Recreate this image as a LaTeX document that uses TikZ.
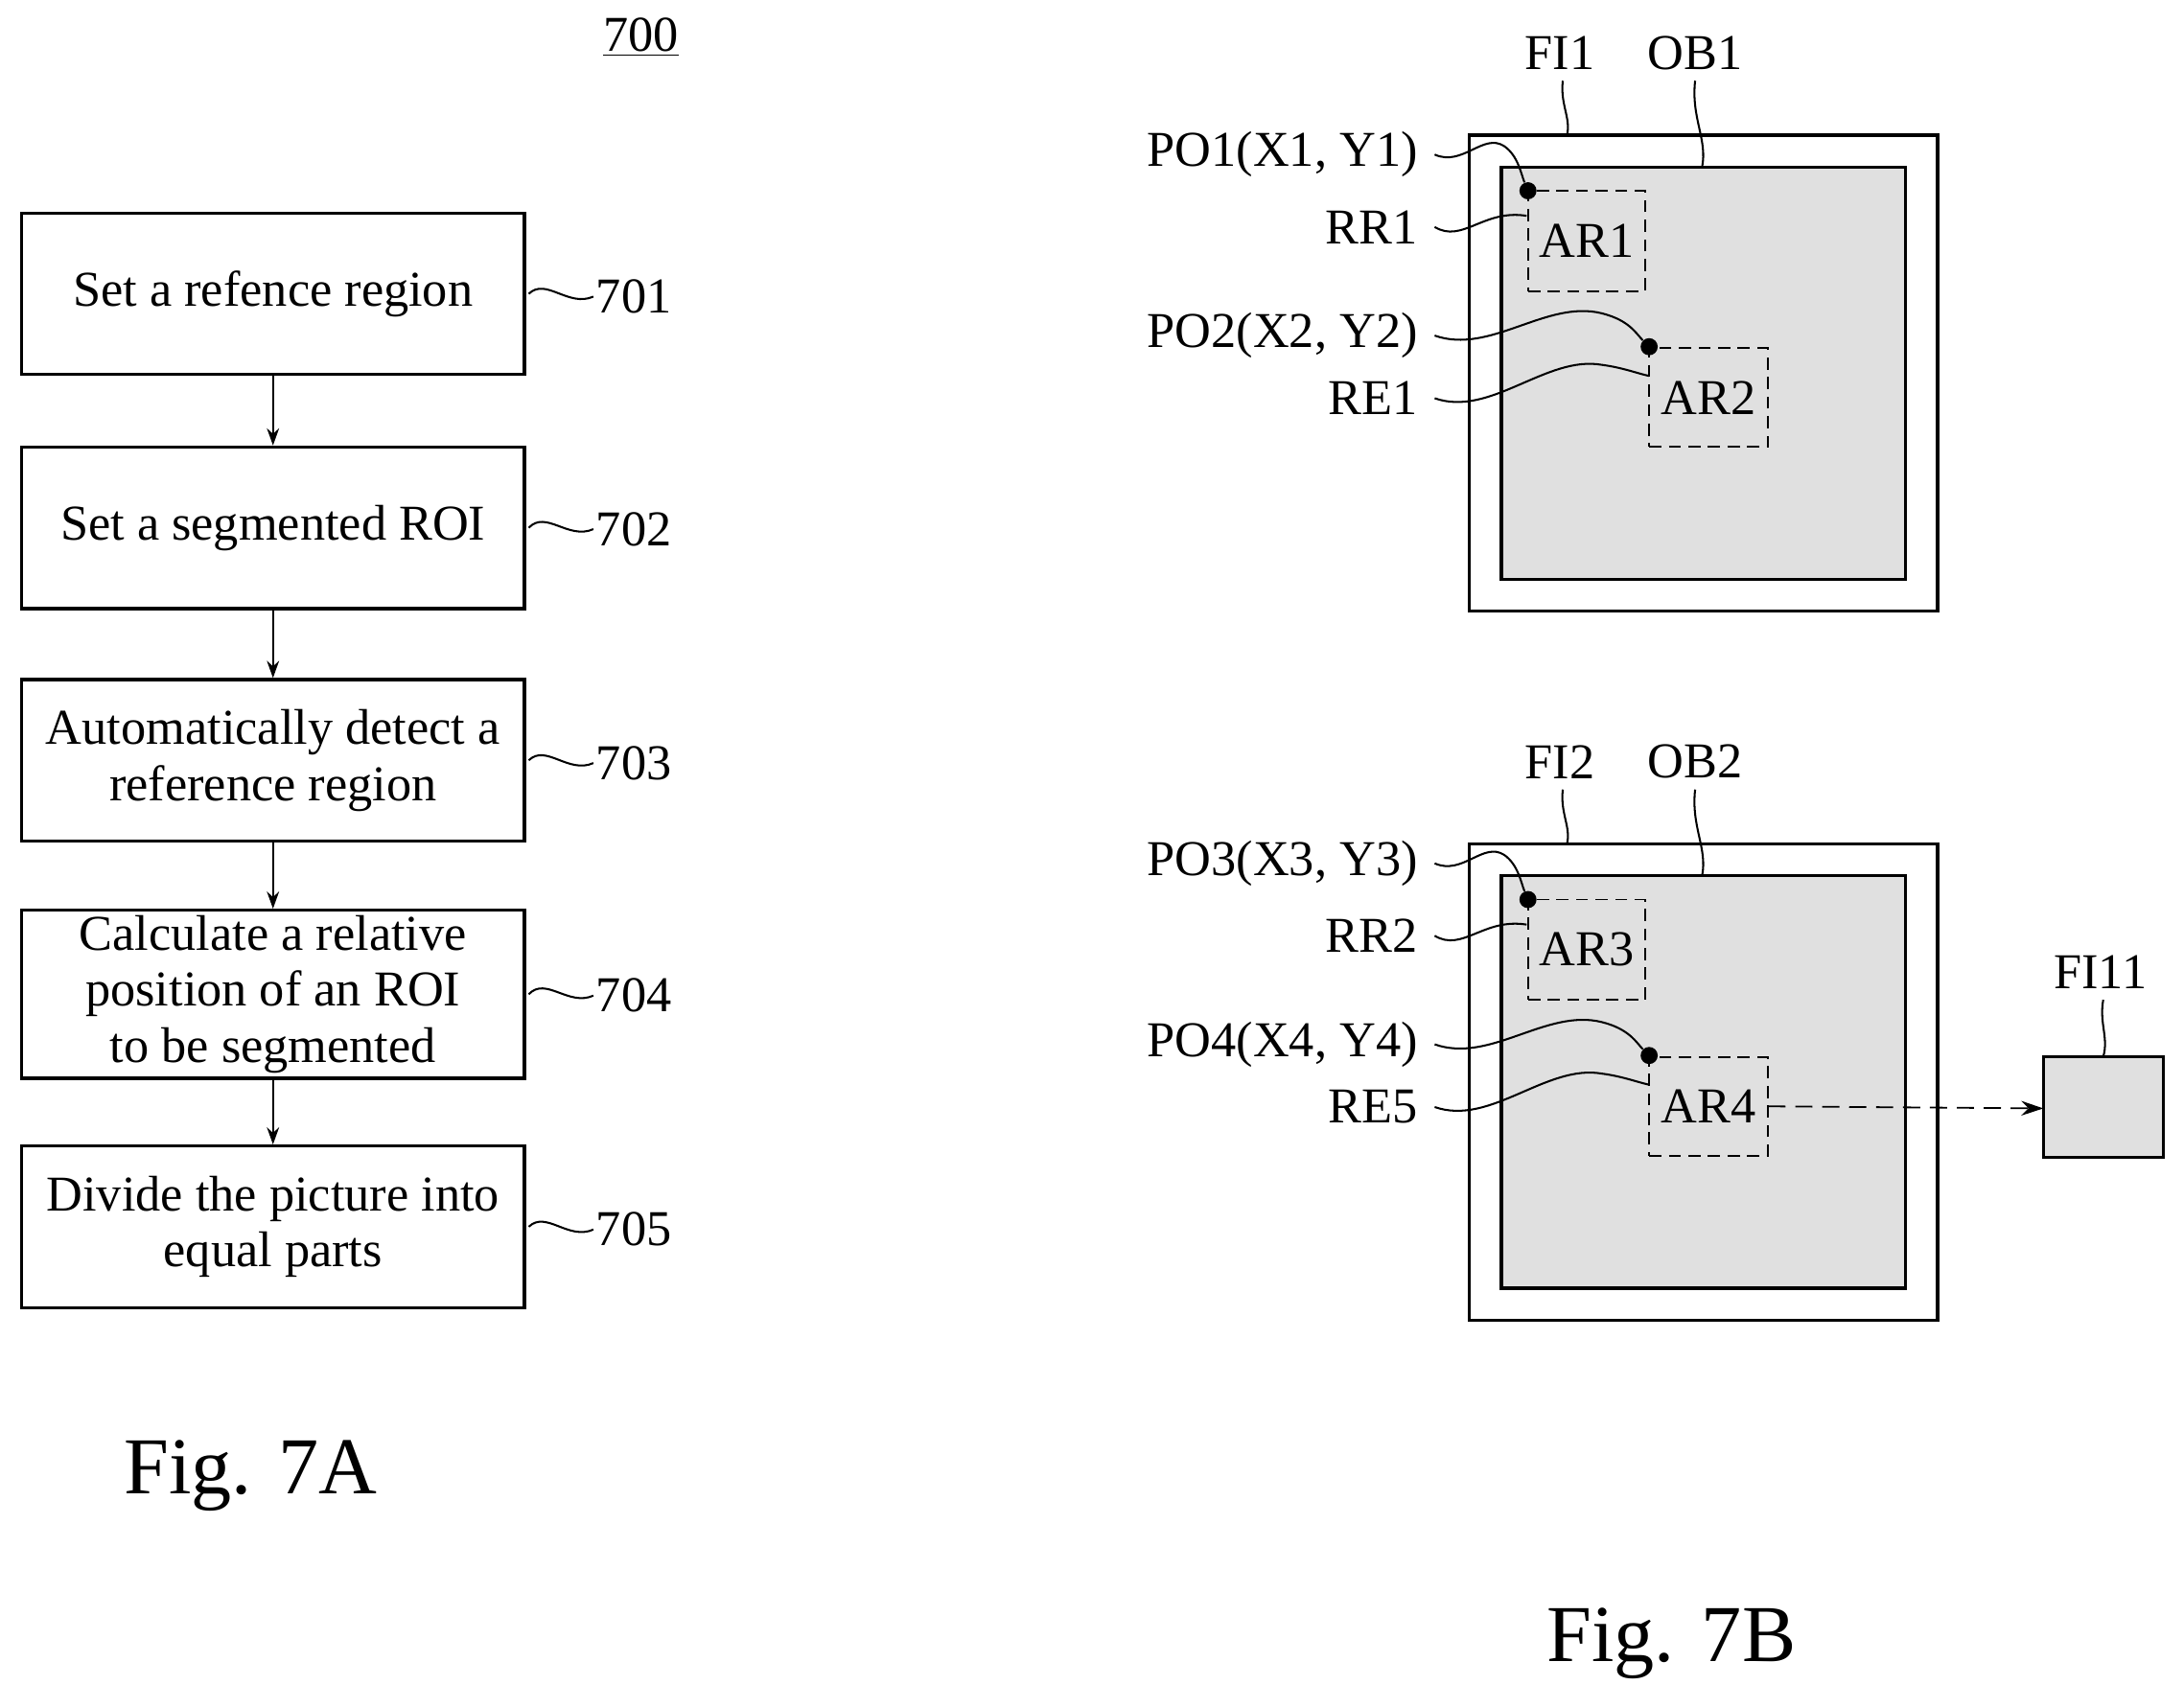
\documentclass[tikz,border=0pt]{standalone}
\usepackage{fontspec}
\setmainfont{Liberation Serif}
\usetikzlibrary{arrows.meta}
\newcommand\myframe[9]{%
  \begin{scope}[yshift=-#1*0.02cm]
  \draw[fr] (1055,97) rectangle (1391,439);
  \draw[ob] (1078,120) rectangle (1368,416);
  \node[ar,minimum width=1.68cm,minimum height=1.44cm,lab] (#8) at (1139,173) {#8};
  \node[ar,minimum width=1.70cm,minimum height=1.42cm,lab] (#9) at (1226.5,285.5) {#9};
  \node[dot] (d#8) at (1097,137) {};
  \node[dot] (d#9) at (1184,249) {};
  \node[lab] (n#2) at (1120,38) {#2};
  \node[lab] (n#3) at (1217,38) {#3};
  \draw[wav] (1122,58) .. controls (1120,75) and (1128,85) .. (1125,97);
  \draw[wav] (1217,58) .. controls (1214,85) and (1226,100) .. (1222,120);
  \node[lab,anchor=east] (pa#8) at (1024,111) {#4};
  \node[lab,anchor=east] (n#6) at (1024,163) {#6};
  \node[lab,anchor=east] (pb#9) at (1024,241) {#5};
  \node[lab,anchor=east] (n#7) at (1024,286) {#7};
  \draw[wav] (1030,111) .. controls (1050,120) and (1065,95) .. (1080,105) .. controls (1090,112) and (1092,125) .. (d#8);
  \draw[wav] (1030,163) .. controls (1050,175) and (1065,150) .. (1096,155);
  \draw[wav] (1030,241) .. controls (1070,255) and (1110,215) .. (1150,225) .. controls (1170,230) and (1175,240) .. (d#9);
  \draw[wav] (1030,286) .. controls (1070,300) and (1110,255) .. (1150,262) .. controls (1165,264) and (1175,268) .. (1184,270);
  \end{scope}}
\begin{document}
\begin{tikzpicture}[x=0.02cm,y=-0.02cm,
  box/.style={draw,line width=1.3pt,minimum width=7.22cm,minimum height=2.32cm,align=center,font=\fontsize{20.5}{23}\selectfont,inner sep=2pt},
  lab/.style={font=\fontsize{20.5}{23}\selectfont},
  wav/.style={line width=0.8pt},
  arr/.style={-{Stealth[length=7pt,width=5pt]},line width=0.8pt},
  fr/.style={draw,line width=1.3pt},
  ob/.style={draw,line width=1.3pt,fill=black!12},
  ar/.style={draw,line width=0.7pt,dash pattern=on 5pt off 3pt},
  dot/.style={circle,fill=black,inner sep=0pt,minimum size=7pt}]
\useasboundingbox (0,0) rectangle (1568,1226);
% ---- Fig 7A
\node[lab] (t700) at (460,27) {\underline{700}};
\node[box] (b1) at (196,211) {Set a refence region};
\node[box] (b2) at (196,379) {Set a segmented ROI};
\node[box] (b3) at (196,546) {Automatically detect a\\reference region};
\node[box] (b4) at (196,714) {Calculate a relative\\position of an ROI\\to be segmented};
\node[box] (b5) at (196,881) {Divide the picture into\\equal parts};
\foreach \a/\b in {b1/b2,b2/b3,b3/b4,b4/b5} \draw[arr] (\a.south) -- (\b.north);
\foreach \n/\y in {1/213,2/380,3/548,4/715,5/883}{
  \node[lab,anchor=west,inner sep=1pt] (l70\n) at (426,\y) {70\n};
  \draw[wav] (b\n.east) ++(2,0) .. controls (392,\y-14) and (408,\y+8) .. (l70\n.west);
}
\node[font=\fontsize{33}{38}\selectfont] (f7a) at (180,1060) {Fig. 7A};
% ---- Fig 7B
\myframe{0}{FI1}{OB1}{PO1(X1, Y1)}{PO2(X2, Y2)}{RR1}{RE1}{AR1}{AR2}
\myframe{509}{FI2}{OB2}{PO3(X3, Y3)}{PO4(X4, Y4)}{RR2}{RE5}{AR3}{AR4}
\draw[ob,line width=1.1pt] (1467,759) rectangle (1553,831);
\coordinate (fi11b) at (1510,759);
\node[lab] (fi11) at (1508,698) {FI11};
\draw[wav] (1510,718) .. controls (1507,735) and (1514,745) .. (fi11b);
\draw[line width=0.7pt,dash pattern=on 7pt off 4pt,-{Stealth[length=9pt,width=6pt]}] (AR4.east) -- (1467,796);
\node[font=\fontsize{33}{38}\selectfont] (f7b) at (1200,1180) {Fig. 7B};
\end{tikzpicture}
\end{document}
